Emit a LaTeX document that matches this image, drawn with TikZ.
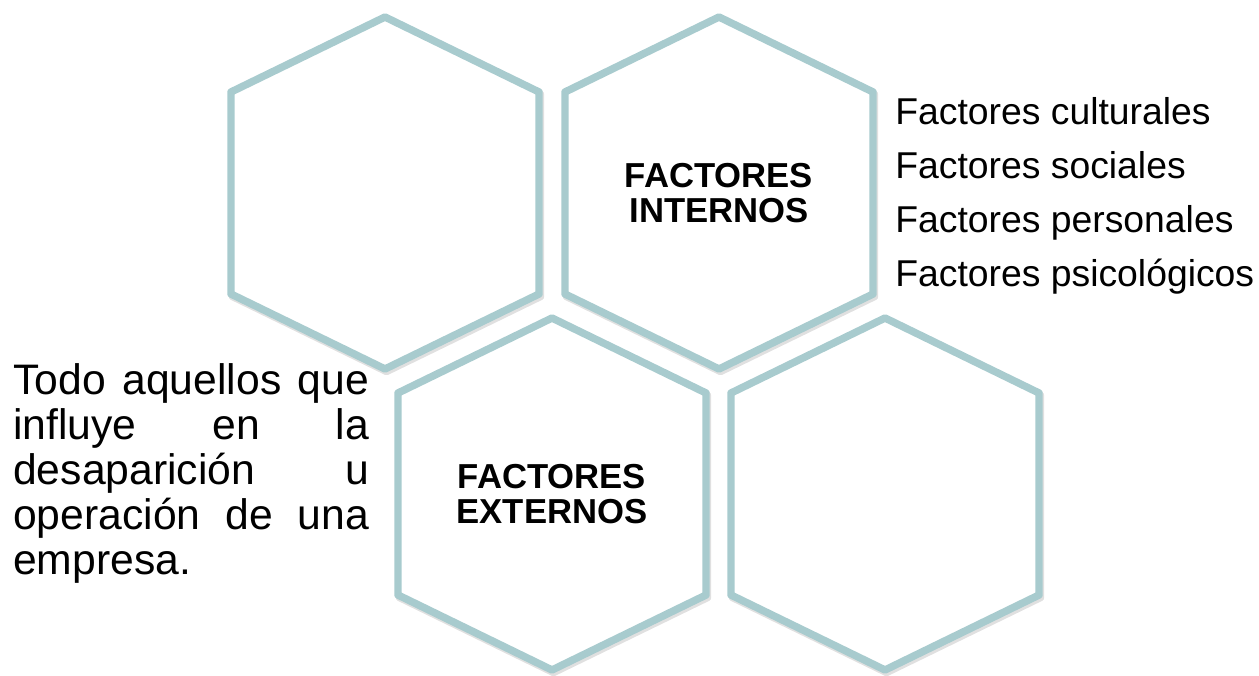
\documentclass[tikz,border=0pt]{standalone}
\usepackage{fontspec}
\setmainfont{Liberation Sans}
\definecolor{hexteal}{RGB}{168,203,206}
\newcommand{\hexoutline}{(0,-176) -- (154,-101) -- (154,101) -- (0,176) -- (-154,101) -- (-154,-101) -- cycle}
\tikzset{
  hexcell/.style={draw=hexteal, line width=5.6pt, line join=round, fill=white},
  hexshade/.style={draw=black, opacity=0.12, line width=5.6pt, line join=round},
  hextitle/.style={font=\bfseries\fontsize{26}{26.25}\selectfont, align=center, inner sep=0pt},
  factitem/.style={font=\fontsize{28}{30}\selectfont, anchor=base west, inner sep=0pt},
  leftnote/.style={font=\fontsize{32}{33.9}\selectfont, text width=267pt, align=justify, inner sep=0pt, anchor=base west}
}
\begin{document}
\begin{tikzpicture}[x=0.75pt,y=-0.75pt]
  \useasboundingbox (0,0) rectangle (1259,675);
  % hexagon cells
  \foreach \name/\cx/\cy in {hexA/385/193, hexB/719/193, hexC/552/494, hexD/885/494}{
    \begin{scope}[shift={(\cx,\cy)}]
      \draw[hexshade, shift={(1.5,2.5)}] \hexoutline;
      \draw[hexcell] \hexoutline;
      \coordinate (\name) at (0,0);
    \end{scope}
  }
  \node[hextitle] (intTitle) at (hexB) {FACTORES\\INTERNOS};
  \node[hextitle] (extTitle) at (hexC) {FACTORES\\EXTERNOS};
  % list beside the internal factors
  \foreach \i/\txt in {0/culturales, 1/sociales, 2/personales, 3/psicológicos}
    \node[factitem] (fact\i) at (895,{124+54.33*\i}) {Factores \txt};
  % definition text
  \node[leftnote] (noteTxt) at (13,394) {Todo aquellos que\linebreak influye en la\linebreak desaparición u\linebreak operación de una\linebreak empresa.};
\end{tikzpicture}
\end{document}
